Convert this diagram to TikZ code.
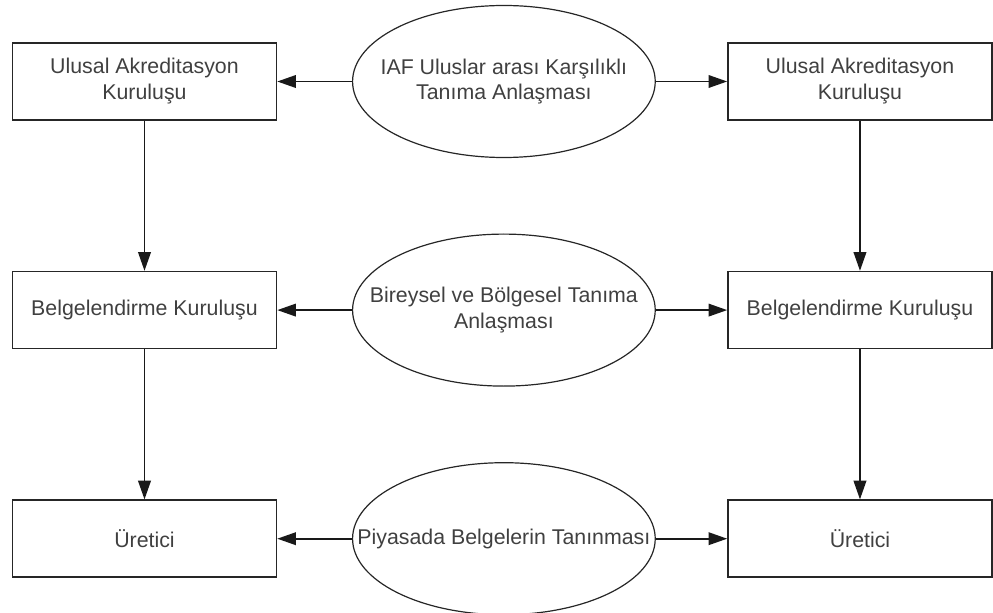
\documentclass[tikz,border=0pt]{standalone}
\usepackage{fontspec}
\setmainfont{Liberation Sans}
\usepackage{tikz}
\usetikzlibrary{positioning,shapes.geometric,arrows.meta}

\begin{document}
\begin{tikzpicture} [x=0.75pt,y=-0.75pt,
            kutu/.style={rectangle, draw=black!85, line width=1.2pt, minimum width=198pt, minimum height=57.75pt, align=center, text=black!75, font=\fontsize{16}{19.5}\selectfont},
            elips/.style={ellipse, draw=black!85, line width=0.9pt, minimum width=227pt, minimum height=114pt, inner sep=0pt},
            yazi/.style={align=center, text=black!75, font=\fontsize{16}{19}\selectfont},
            ok/.style={-{Triangle[length=14pt,width=9.5pt]}, line width=1.2pt, draw=black!90},]
        \useasboundingbox (0,0) rectangle (993,613);
        % sol sutun
        \node[kutu](ak1) at (144.5,81.5){Ulusal Akreditasyon\\Kurulu\c{s}u};
        \node[kutu](bk1)[below=112.5pt of ak1]{Belgelendirme Kurulu\c{s}u};
        \node[kutu](ur1)[below=112.5pt of bk1]{\"Uretici};
        % orta sutun
        \node[elips, label={[yazi]center:IAF Uluslar aras\i{} Kar\c{s}\i l\i kl\i\\Tan\i ma Anla\c{s}mas\i}](iaf)[right=56pt of ak1]{};
        \node[elips, label={[yazi]center:Bireysel ve B\"olgesel Tan\i ma\\Anla\c{s}mas\i}](bbt)[right=56pt of bk1]{};
        \node[elips, label={[yazi]center:Piyasada Belgelerin Tan\i nmas\i}](pbt)[right=56pt of ur1]{};
        % sag sutun
        \node[kutu](ak2)[right=53.5pt of iaf]{Ulusal Akreditasyon\\Kurulu\c{s}u};
        \node[kutu](bk2)[right=53.5pt of bbt]{Belgelendirme Kurulu\c{s}u};
        \node[kutu](ur2)[right=53.5pt of pbt]{\"Uretici};
        \draw[ok] (iaf.west) -- (ak1.east);
        \draw[ok] (iaf.east) -- (ak2.west);
        \draw[ok] (bbt.west) -- (bk1.east);
        \draw[ok] (bbt.east) -- (bk2.west);
        \draw[ok] (pbt.west) -- (ur1.east);
        \draw[ok] (pbt.east) -- (ur2.west);
        \draw[ok] (ak1.south) -- (bk1.north);
        \draw[ok] (bk1.south) -- (ur1.north);
        \draw[ok] (ak2.south) -- (bk2.north);
        \draw[ok] (bk2.south) -- (ur2.north);
    \end{tikzpicture}
\end{document}
